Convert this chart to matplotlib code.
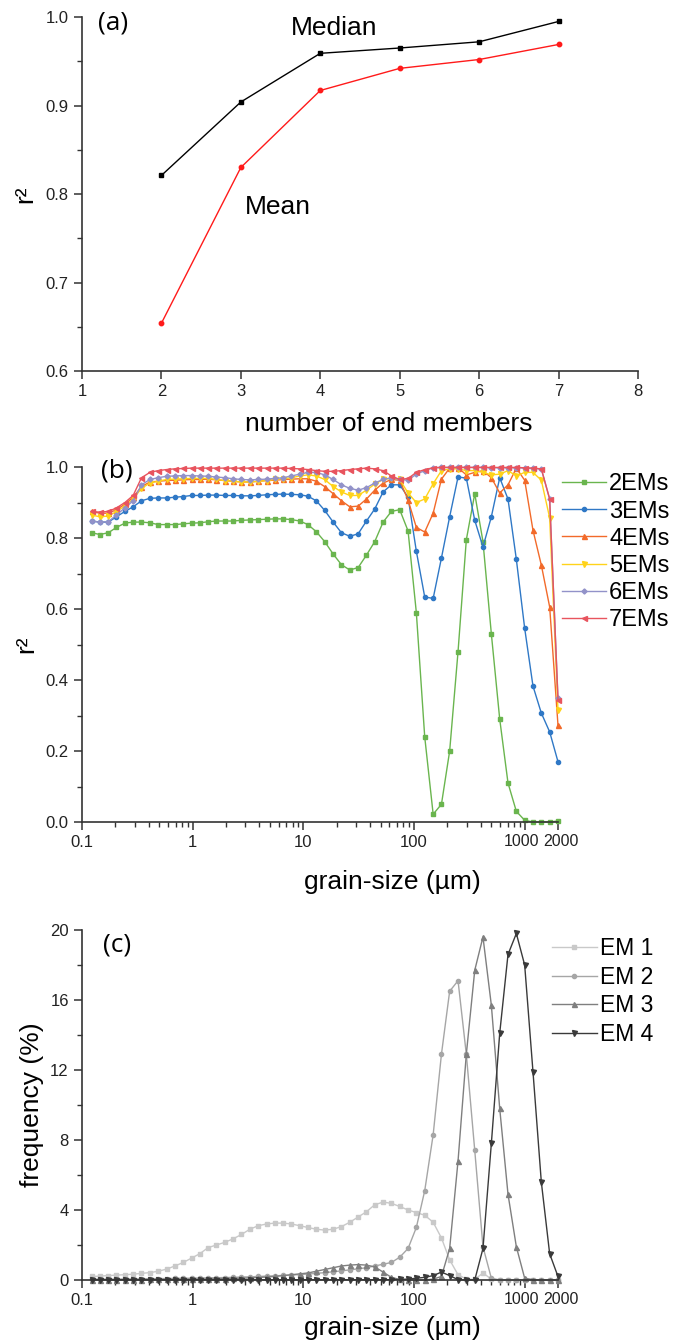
import numpy as np
import matplotlib.pyplot as plt
from matplotlib.ticker import MultipleLocator, FixedLocator, NullFormatter, LogLocator

plt.rcParams['font.family'] = ['Liberation Sans', 'DejaVu Sans']

# ---- panel (a) data ----
n_em = [2, 3, 4, 5, 6, 7]
r2_median = [0.821, 0.904, 0.959, 0.965, 0.972, 0.995]
r2_mean = [0.654, 0.830, 0.917, 0.942, 0.952, 0.969]

# grain-size classes (um), 1/4 phi steps
size = [0.122, 0.145, 0.173, 0.205, 0.244, 0.290, 0.345, 0.411, 0.488, 0.581,
        0.691, 0.822, 0.977, 1.16, 1.38, 1.64, 1.95, 2.32, 2.76, 3.29,
        3.91, 4.65, 5.52, 6.57, 7.81, 9.29, 11.0, 13.1, 15.6, 18.6,
        22.1, 26.3, 31.3, 37.2, 44.2, 52.6, 62.5, 74.3, 88.4, 105,
        125, 149, 177, 210, 250, 297, 354, 420, 500, 595,
        707, 841, 1000, 1189, 1414, 1682, 2000]
xtick_pos = [0.1, 1, 10, 100, 1000, 2000]
xtick_lab = ['0.1', '1', '10', '100', '1000', '2000']

# ---- panel (b) data: r2 per size class ----
r2_2em = [0.815, 0.810, 0.815, 0.830, 0.842, 0.845, 0.845, 0.843, 0.838, 0.838,
          0.838, 0.840, 0.842, 0.843, 0.846, 0.848, 0.848, 0.848, 0.850, 0.851,
          0.852, 0.853, 0.854, 0.854, 0.852, 0.848, 0.838, 0.818, 0.790, 0.755,
          0.725, 0.710, 0.717, 0.752, 0.790, 0.845, 0.875, 0.880, 0.820, 0.590,
          0.240, 0.022, 0.050, 0.200, 0.480, 0.795, 0.925, 0.790, 0.530, 0.290,
          0.110, 0.030, 0.005, 0.000, 0.000, 0.000, 0.003]
r2_3em = [0.848, 0.845, 0.845, 0.860, 0.875, 0.888, 0.905, 0.912, 0.913, 0.913,
          0.915, 0.917, 0.920, 0.920, 0.921, 0.921, 0.920, 0.920, 0.919, 0.919,
          0.920, 0.922, 0.923, 0.924, 0.923, 0.922, 0.918, 0.905, 0.878, 0.845,
          0.815, 0.805, 0.812, 0.848, 0.882, 0.930, 0.950, 0.950, 0.915, 0.763,
          0.634, 0.630, 0.744, 0.860, 0.972, 0.969, 0.850, 0.775, 0.860, 0.970,
          0.910, 0.740, 0.546, 0.383, 0.307, 0.254, 0.170]
r2_4em = [0.875, 0.870, 0.870, 0.880, 0.895, 0.915, 0.945, 0.958, 0.960, 0.962,
          0.963, 0.964, 0.965, 0.965, 0.966, 0.964, 0.962, 0.960, 0.958, 0.958,
          0.960, 0.962, 0.963, 0.965, 0.966, 0.967, 0.967, 0.960, 0.945, 0.925,
          0.905, 0.888, 0.890, 0.910, 0.935, 0.955, 0.965, 0.963, 0.907, 0.830,
          0.817, 0.870, 0.966, 0.997, 0.998, 0.978, 0.985, 0.990, 0.970, 0.927,
          0.950, 0.997, 0.963, 0.822, 0.724, 0.606, 0.273]
r2_5em = [0.865, 0.860, 0.862, 0.875, 0.890, 0.910, 0.940, 0.955, 0.960, 0.965,
          0.966, 0.967, 0.968, 0.968, 0.968, 0.965, 0.962, 0.960, 0.958, 0.958,
          0.960, 0.962, 0.965, 0.967, 0.970, 0.975, 0.978, 0.975, 0.965, 0.945,
          0.930, 0.920, 0.920, 0.935, 0.952, 0.965, 0.968, 0.965, 0.927, 0.900,
          0.910, 0.953, 0.990, 0.995, 0.995, 0.990, 0.990, 0.985, 0.978, 0.980,
          0.990, 0.975, 0.985, 0.985, 0.963, 0.857, 0.315]
r2_6em = [0.848, 0.845, 0.846, 0.865, 0.885, 0.905, 0.950, 0.965, 0.970, 0.974,
          0.975, 0.976, 0.976, 0.975, 0.974, 0.972, 0.970, 0.967, 0.965, 0.964,
          0.965, 0.966, 0.968, 0.970, 0.975, 0.980, 0.985, 0.985, 0.978, 0.965,
          0.950, 0.940, 0.935, 0.942, 0.955, 0.965, 0.970, 0.965, 0.963, 0.980,
          0.990, 0.998, 0.999, 0.999, 0.999, 0.999, 0.999, 0.999, 0.998, 0.998,
          0.998, 0.998, 0.997, 0.996, 0.995, 0.910, 0.350]
r2_7em = [0.875, 0.873, 0.875, 0.885, 0.900, 0.920, 0.970, 0.985, 0.990, 0.993,
          0.995, 0.996, 0.997, 0.997, 0.997, 0.997, 0.997, 0.997, 0.997, 0.997,
          0.997, 0.997, 0.997, 0.997, 0.996, 0.995, 0.993, 0.990, 0.988, 0.988,
          0.990, 0.993, 0.995, 0.997, 0.995, 0.990, 0.975, 0.965, 0.968, 0.985,
          0.993, 0.998, 0.999, 0.999, 0.999, 0.999, 0.999, 0.999, 0.999, 0.999,
          0.999, 0.999, 0.998, 0.997, 0.995, 0.910, 0.345]

# ---- panel (c) data: end-member frequency (%) ----
em1 = [0.20, 0.22, 0.25, 0.28, 0.30, 0.33, 0.38, 0.42, 0.50, 0.62,
       0.80, 1.00, 1.25, 1.50, 1.85, 2.00, 2.15, 2.35, 2.60, 2.90,
       3.10, 3.20, 3.25, 3.25, 3.20, 3.10, 3.00, 2.90, 2.85, 2.90,
       3.05, 3.30, 3.60, 3.90, 4.30, 4.45, 4.38, 4.20, 4.00, 3.85,
       3.70, 3.30, 2.40, 1.15, 0.30, 0.05, 0.03, 0.40, 0.05, 0.00,
       0.00, 0.00, 0.00, 0.00, 0.00, 0.00, 0.00]
em2 = [0.05, 0.05, 0.05, 0.05, 0.06, 0.06, 0.07, 0.07, 0.08, 0.08,
       0.09, 0.10, 0.10, 0.11, 0.12, 0.13, 0.14, 0.15, 0.17, 0.18,
       0.20, 0.22, 0.24, 0.26, 0.28, 0.31, 0.34, 0.38, 0.42, 0.47,
       0.52, 0.58, 0.64, 0.70, 0.80, 0.90, 1.00, 1.30, 1.80, 3.00,
       5.10, 8.30, 12.90, 16.50, 17.10, 12.90, 7.40, 1.90, 0.10, 0.00,
       0.00, 0.00, 0.00, 0.00, 0.00, 0.00, 0.00]
em3 = [0.02, 0.02, 0.02, 0.02, 0.02, 0.02, 0.02, 0.03, 0.03, 0.03,
       0.04, 0.04, 0.05, 0.05, 0.06, 0.07, 0.08, 0.09, 0.10, 0.12,
       0.14, 0.17, 0.20, 0.25, 0.30, 0.35, 0.40, 0.50, 0.60, 0.70,
       0.80, 0.85, 0.88, 0.85, 0.75, 0.45, 0.15, 0.03, 0.01, 0.00,
       0.00, 0.05, 0.20, 1.80, 6.80, 12.90, 17.70, 19.60, 15.70, 9.80,
       4.90, 1.90, 0.10, 0.02, 0.00, 0.00, 0.00]
em4 = [0.01, 0.01, 0.01, 0.01, 0.01, 0.01, 0.01, 0.01, 0.01, 0.01,
       0.01, 0.01, 0.01, 0.01, 0.01, 0.01, 0.01, 0.01, 0.01, 0.01,
       0.01, 0.01, 0.01, 0.01, 0.01, 0.01, 0.01, 0.01, 0.01, 0.01,
       0.01, 0.01, 0.01, 0.01, 0.01, 0.01, 0.02, 0.03, 0.05, 0.10,
       0.15, 0.25, 0.45, 0.25, 0.02, 0.00, 0.00, 1.80, 7.80, 14.10,
       18.60, 19.80, 18.00, 11.90, 5.60, 1.50, 0.20]

fs_tick = 12
fs_lab = 19
spine_c = '#333333'


def style_axes(ax):
    for s in ['top', 'right']:
        ax.spines[s].set_visible(False)
    for s in ['left', 'bottom']:
        ax.spines[s].set_color(spine_c)
        ax.spines[s].set_linewidth(1.2)
    ax.tick_params(which='major', direction='out', length=6, width=1.1,
                   color=spine_c, labelsize=fs_tick, labelcolor='#222222')
    ax.tick_params(which='minor', direction='out', length=3.5, width=1.0,
                   color=spine_c)


def log_xaxis(ax):
    ax.set_xscale('log')
    ax.set_xlim(0.1, 2000)
    ax.xaxis.set_major_locator(FixedLocator(xtick_pos))
    # 1000 and 2000 sit close together: draw those two labels by hand, nudged apart
    ax.set_xticklabels(xtick_lab[:4] + ['', ''])
    for pos, lab, dx in [(xtick_pos[4], xtick_lab[4], -2.3), (xtick_pos[5], xtick_lab[5], 2.3)]:
        ax.annotate(lab, xy=(pos, 0), xycoords=('data', 'axes fraction'),
                    xytext=(dx, -8.3), textcoords='offset points',
                    ha='center', va='top', fontsize=11.5, color='#222222')
    ax.xaxis.set_minor_locator(LogLocator(base=10, subs=np.arange(2, 10), numticks=20))
    ax.xaxis.set_minor_formatter(NullFormatter())


fig = plt.figure(figsize=(6.73, 13.41), dpi=100)

# ---------------- (a) ----------------
axa = fig.add_axes([0.1218, 0.7233, 0.8262, 0.264])
axa.plot(n_em, r2_median, color='black', lw=1.0, marker='s', ms=3, clip_on=False)
axa.plot(n_em, r2_mean, color='#ff1a1a', lw=1.0, marker='o', ms=3.2, clip_on=False)
axa.set_xlim(1, 8)
axa.set_ylim(0.6, 1.0)
axa.xaxis.set_major_locator(MultipleLocator(1))
axa.yaxis.set_major_locator(MultipleLocator(0.1))
axa.yaxis.set_minor_locator(MultipleLocator(0.05))
axa.yaxis.set_major_formatter(plt.FormatStrFormatter('%.1f'))
style_axes(axa)
axa.text(4.17, 0.988, 'Median', fontsize=fs_lab, ha='center', va='center')
axa.text(3.46, 0.785, 'Mean', fontsize=fs_lab, ha='center', va='center')
axa.text(0.056, 0.982, '(a)', transform=axa.transAxes, fontsize=19,
         family='Open Sans', ha='center', va='center')
axa.set_xlabel('number of end members', fontsize=fs_lab)
axa.xaxis.set_label_coords(0.552, -0.116)
axa.set_ylabel('r²', fontsize=fs_lab)
axa.yaxis.set_label_coords(-0.08, 0.5)

# ---------------- (b) ----------------
axb = fig.add_axes([0.1218, 0.387, 0.7073, 0.2647])
series_b = [('2EMs', r2_2em, '#6ab54e', 's', 2.6),
            ('3EMs', r2_3em, '#2f78c6', 'o', 3.0),
            ('4EMs', r2_4em, '#f26a2a', '^', 3.6),
            ('5EMs', r2_5em, '#ffd31a', 'v', 3.6),
            ('6EMs', r2_6em, '#9292c9', 'D', 2.6),
            ('7EMs', r2_7em, '#e8545e', '<', 3.6)]
for lab, vals, col, mk, ms in series_b:
    axb.plot(size, vals, color=col, lw=1.0, marker=mk, ms=ms, label=lab,
             clip_on=False)
log_xaxis(axb)
axb.set_ylim(0, 1.0)
axb.yaxis.set_major_locator(MultipleLocator(0.2))
axb.yaxis.set_minor_locator(MultipleLocator(0.1))
axb.yaxis.set_major_formatter(plt.FormatStrFormatter('%.1f'))
style_axes(axb)
axb.text(0.0735, 0.99, '(b)', transform=axb.transAxes, fontsize=19,
         family='Open Sans', ha='center', va='center')
axb.set_xlabel('grain-size (µm)', fontsize=fs_lab)
axb.xaxis.set_label_coords(0.653, -0.135)
axb.set_ylabel('r²', fontsize=fs_lab)
axb.yaxis.set_label_coords(-0.092, 0.5)
axb.legend(loc='upper left', bbox_to_anchor=(0.835, 0.647),
           bbox_transform=fig.transFigure, frameon=False, fontsize=17,
           handlelength=1.85, handletextpad=0.15, labelspacing=0.22,
           borderpad=0, borderaxespad=0)

# ---------------- (c) ----------------
axc = fig.add_axes([0.1218, 0.0455, 0.7073, 0.261])
series_c = [('EM 1', em1, '#c9c9c9', 's', 2.8),
            ('EM 2', em2, '#a6a6a6', 'o', 3.0),
            ('EM 3', em3, '#7f7f7f', '^', 3.6),
            ('EM 4', em4, '#3a3a3a', 'v', 3.6)]
for lab, vals, col, mk, ms in series_c:
    axc.plot(size, vals, color=col, lw=1.0, marker=mk, ms=ms, label=lab,
             clip_on=False)
log_xaxis(axc)
axc.set_ylim(0, 20)
axc.yaxis.set_major_locator(MultipleLocator(4))
axc.yaxis.set_minor_locator(MultipleLocator(2))
style_axes(axc)
axc.text(0.0735, 0.957, '(c)', transform=axc.transAxes, fontsize=19,
         family='Open Sans', ha='center', va='center')
axc.set_xlabel('grain-size (µm)', fontsize=fs_lab)
axc.xaxis.set_label_coords(0.653, -0.104)
axc.set_ylabel('frequency (%)', fontsize=fs_lab)
axc.yaxis.set_label_coords(-0.08, 0.5)
axc.legend(loc='upper left', bbox_to_anchor=(0.820, 0.301),
           bbox_transform=fig.transFigure, frameon=False, fontsize=16.5,
           handlelength=1.95, handletextpad=0.15, labelspacing=0.24,
           borderpad=0, borderaxespad=0)

fig.savefig('out.png', dpi=100)
